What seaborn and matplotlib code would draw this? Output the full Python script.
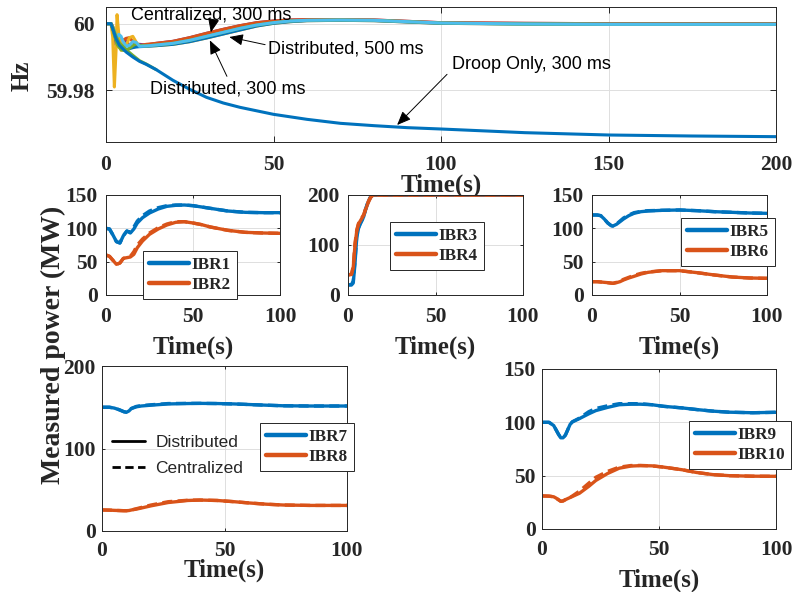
import matplotlib
matplotlib.use("Agg")
import matplotlib.pyplot as plt
import seaborn as sns
from matplotlib.lines import Line2D

# ---------------------------------------------------------------- data
# System frequency (Hz): early transient per bus trace, then scenario tails
freq_t_early = [0, 1.5, 2.0, 2.5, 3.0, 3.3, 3.8, 4.5, 5.0, 6.0, 7.0, 8.0, 9.0, 10.0, 12.0]
freq_yellow_early = [60, 60, 59.996, 59.981, 59.992, 60.0027, 59.997, 59.992, 59.9945,
                     59.9935, 59.9958, 59.9962, 59.9945, 59.9932, 59.9933]
freq_purple_early = [60, 60, 59.999, 59.9965, 59.9935, 59.9945, 59.996, 59.9945, 59.9935,
                     59.9948, 59.9935, 59.993, 59.9937, 59.9938, 59.9936]
freq_orange_early = [60, 60, 59.9992, 59.9975, 59.9955, 59.9948, 59.9943, 59.9946, 59.995,
                     59.9956, 59.9958, 59.9946, 59.9936, 59.9934, 59.9938]
freq_green_early = [60, 60, 59.9985, 59.9965, 59.995, 59.9938, 59.993, 59.9922, 59.992,
                    59.992, 59.9926, 59.9934, 59.994, 59.9935, 59.9933]
freq_lightblue_early = [60, 60, 59.999, 59.9978, 59.996, 59.9958, 59.9968, 59.9962, 59.9948,
                        59.9932, 59.9935, 59.9946, 59.9944, 59.9932, 59.9933]
freq_blue_early = [60, 60, 59.9985, 59.997, 59.995, 59.9942, 59.9936, 59.9932, 59.993,
                   59.9922, 59.9925, 59.9928, 59.993, 59.9931, 59.9932]

freq_t_tail = [15, 20, 25, 30, 35, 40, 45, 50, 55, 60, 70, 80, 90, 100, 125, 150, 175, 200]
freq_central_300 = [59.9941, 59.9947, 59.9958, 59.9971, 59.9983, 59.9994, 60.0003, 60.0008, 60.0011,
                    60.0012, 60.0012, 60.0011, 60.0007, 60.0003, 60.0001, 60.0, 60.0, 60.0]
freq_dist_500 = [59.9936, 59.9941, 59.9950, 59.9962, 59.9974, 59.9986, 59.9996, 60.0003, 60.0008,
                 60.0010, 60.0011, 60.0010, 60.0006, 60.0002, 59.9999, 59.9998, 59.9998, 59.9998]
freq_dist_300 = [59.9934, 59.9938, 59.9946, 59.9957, 59.9969, 59.9981, 59.9993, 60.0001, 60.0006,
                 60.0009, 60.0010, 60.0009, 60.0005, 60.0001, 59.9999, 59.9998, 59.9998, 59.9998]

droop_t = [0, 1.5, 2, 3, 4, 5, 6, 8, 10, 12, 15, 20, 25, 30, 35, 40, 50, 60, 70, 80, 90,
           100, 125, 150, 175, 200]
droop_blue = [60, 60, 59.9985, 59.9955, 59.9935, 59.9925, 59.9915, 59.9900, 59.9887, 59.9878,
              59.9862, 59.9830, 59.9803, 59.9779, 59.9762, 59.9749, 59.9728, 59.9713, 59.9701,
              59.9694, 59.9688, 59.9684, 59.9673, 59.9666, 59.9663, 59.9661]
droop_green_t = [0, 1.5, 2, 3, 4, 5, 6, 8, 10, 12, 15]
droop_green = [60, 60, 59.9990, 59.9962, 59.9942, 59.9932, 59.9922, 59.9905, 59.9889, 59.9879, 59.9862]

# Measured power (MW), distributed (solid) and centralized (dashed)
t12 = [0, 2, 4, 6, 8, 10, 12, 14, 16, 18, 21, 25, 30, 35, 40, 45, 50, 55, 60, 70, 80, 90, 100]
ibr1_dist = [100, 99, 90, 80, 78, 89, 96, 93, 99, 108, 116, 123, 129, 133, 134.5, 135, 134, 132,
             130, 126, 124, 123.5, 123.5]
ibr1_cent = [100, 99, 90, 80, 78, 89, 96, 94, 102, 111, 119, 126, 131, 134, 135, 135, 134, 132,
             130, 126, 124, 123.5, 123.5]
ibr2_dist = [60, 58, 52, 46, 48, 55, 56, 57, 61, 71, 81, 91, 99, 105, 109, 110, 108, 105.5,
             102, 97, 94, 93, 92.5]
ibr2_cent = [60, 58, 52, 46, 48, 55, 56, 58, 65, 75, 84, 93, 101, 106.5, 110, 110, 108, 105.5,
             102, 97, 94, 93, 92.5]

t34 = [0, 2, 3, 4, 5, 6, 7, 8, 9, 10, 11, 12, 13, 14, 15, 20, 40, 60, 80, 100]
ibr3_dist = [20, 20, 24, 63, 115, 133, 142, 149, 157, 170, 181, 190, 196, 199, 200, 200, 200, 200, 200, 200]
ibr3_cent = [20, 21, 28, 70, 118, 135, 143, 150, 158, 171, 182, 191, 197, 200, 200, 200, 200, 200, 200, 200]
ibr4_dist = [40, 41, 55, 100, 128, 142, 148, 154, 160, 170, 180, 188, 195, 199, 200, 200, 200, 200, 200, 200]
ibr4_cent = [40, 42, 58, 103, 130, 143, 149, 155, 161, 172, 182, 190, 196, 200, 200, 200, 200, 200, 200, 200]

t56 = [0, 3, 5, 7, 9, 11, 12, 14, 16, 18, 21, 24, 28, 32, 40, 50, 60, 70, 80, 90, 100]
ibr5_dist = [120, 120, 119, 114, 108, 104, 103.5, 106, 110, 114, 119, 122.5, 125, 126, 127, 127.5,
             126.5, 125, 124, 123, 122.5]
ibr5_cent = [120, 120, 119, 114, 108, 104, 103.5, 106.5, 111, 115.5, 120, 123.5, 125.5, 126.5, 127,
             127.5, 126.5, 125, 124, 123, 122.5]
ibr6_dist = [20, 20, 19.5, 19, 18.5, 17.8, 17.5, 18.5, 20, 22.5, 25.5, 28, 31.5, 34, 36.5, 36.5,
             33.5, 30, 27, 25.5, 25]
ibr6_cent = [20, 20, 19.5, 19, 18.5, 17.8, 17.5, 19, 21, 23.5, 26.5, 29.5, 32.5, 34.5, 36.5, 36.5,
             33.5, 30, 27, 25.5, 25]

t78 = [0, 3, 5, 7, 9, 10, 11, 12, 14, 16, 20, 27, 35, 40, 47, 54, 60, 67, 74, 85, 100]
ibr7_dist = [150, 150, 149, 147, 144.5, 144, 145.5, 148.5, 150.5, 151.5, 152.5, 154, 154.5, 154.7,
             154.5, 154, 153.3, 152.5, 151.8, 151.5, 151.5]
ibr7_cent = [150, 150, 149, 147, 144.5, 144, 145.5, 148.5, 151, 152, 153, 154.5, 154.7, 154.7,
             154.5, 154, 153.3, 152.5, 151.8, 151.5, 151.5]
ibr8_dist = [25.5, 25.3, 25, 24.8, 24.6, 24.6, 24.8, 25.5, 26.5, 27.8, 30.5, 34.5, 37, 37.5, 37,
             35.5, 34, 32.5, 31.5, 31, 31]
ibr8_cent = [25.5, 25.3, 25, 24.8, 24.6, 24.6, 24.8, 25.5, 27, 28.5, 31.5, 35.5, 37.3, 37.5, 37,
             35.5, 34, 32.5, 31.5, 31, 31]

t910 = [0, 3, 5, 6, 7, 8, 9, 10, 11, 12, 13, 16, 20, 23, 28, 33, 38, 42, 47, 52, 60, 66, 73, 80, 90, 100]
ibr9_dist = [100, 100, 97, 93, 89, 85.5, 85.5, 88, 93, 98, 100.5, 103.5, 108, 111, 114, 116.5, 117,
             117, 116.5, 115, 113.5, 112, 110.5, 109.5, 109, 109.4]
ibr9_cent = [100, 100, 97, 93, 89, 85.5, 85.5, 88, 93, 98, 100.5, 104, 110, 113, 115.5, 117.5, 117.5,
             117.5, 116.5, 115, 113.5, 112, 110.5, 109.5, 109, 109.4]
ibr10_dist = [31, 30.8, 30.2, 29, 27.5, 26, 26.3, 27.5, 28.5, 29.5, 30.5, 33.5, 40, 45.5, 52, 57, 59,
              59.4, 59.2, 58, 55.5, 53, 51, 50, 49.5, 49.4]
ibr10_cent = [31, 30.8, 30.2, 29, 27.5, 26, 26.3, 27.5, 28.5, 29.5, 31, 35.5, 43, 48.5, 54, 58, 59.5,
              59.6, 59.2, 58, 55.5, 53, 51, 50, 49.5, 49.4]

# ---------------------------------------------------------------- style
BLUE, ORANGE, YELLOW = "#0072BD", "#D95319", "#EDB120"
PURPLE, GREEN, LIGHTBLUE = "#7E2F8E", "#77AC30", "#4DBEEE"
AXC = "#262626"

sns.set_theme(style="white")
plt.rcParams["font.family"] = ["Liberation Serif", "DejaVu Serif"]
plt.rcParams["font.weight"] = "bold"
plt.rcParams["axes.labelweight"] = "bold"

W, H = 798, 592
fig = plt.figure(figsize=(W / 100, H / 100), dpi=100)
fig.patch.set_facecolor("white")


def px_axes(l, t, r, b):
    return fig.add_axes([l / W, 1 - b / H, (r - l) / W, (b - t) / H])


def style(ax, xlim, ylim, xticks, yticks, ticklen, xpad, ypad, ylabels=None):
    ax.set_xlim(*xlim)
    ax.set_ylim(*ylim)
    ax.set_xticks(xticks)
    ax.set_xticklabels([str(v) for v in xticks])
    ax.set_yticks(yticks)
    ax.set_yticklabels(ylabels if ylabels else [str(v) for v in yticks])
    for s in ax.spines.values():
        s.set_visible(True)
        s.set_color(AXC)
        s.set_linewidth(0.7)
    ax.grid(True, color="#dedede", linewidth=0.7)
    ax.set_axisbelow(True)
    ax.tick_params(direction="in", length=ticklen, width=0.7, color=AXC,
                   bottom=True, left=True, top=True, right=True,
                   labelsize=15.5, labelcolor=AXC)
    ax.tick_params(axis="x", pad=xpad)
    ax.tick_params(axis="y", pad=ypad)


def line(ax, x, y, color, lw, dashed=False):
    sns.lineplot(x=x, y=y, ax=ax, color=color, linewidth=lw, legend=False,
                 estimator=None, sort=False)
    ln = ax.lines[-1]
    if dashed:
        ln.set_dashes([3.0, 1.6])
    return ln


def time_label(ax, ypos):
    ax.set_xlabel("Time(s)", fontsize=18, color=AXC, fontweight="bold")
    ax.xaxis.set_label_coords(0.5, ypos)


def ibr_legend(ax, labels, left, top):
    handles = [Line2D([], [], color=BLUE, lw=3.2), Line2D([], [], color=ORANGE, lw=3.2)]
    leg = ax.legend(handles, labels, loc="upper left",
                    bbox_to_anchor=(left / W, 1 - top / H), bbox_transform=fig.transFigure,
                    frameon=True, fancybox=False, framealpha=1,
                    edgecolor=AXC, facecolor="white", borderpad=0.35, borderaxespad=0,
                    handlelength=2.35, handletextpad=0.15, labelspacing=0.22,
                    prop={"family": "Liberation Serif", "weight": "bold", "size": 12.3})
    leg.get_frame().set_linewidth(0.7)
    return leg


# ---------------------------------------------------------------- frequency panel
axf = px_axes(106, 7, 776, 142)
style(axf, (0, 200), (59.9645, 60.005), [0, 50, 100, 150, 200], [59.98, 60.0], 4.5, 9, 8,
      ylabels=["59.98", "60"])

freq_lw = 2.2
for col, early in [(PURPLE, freq_purple_early), (ORANGE, freq_orange_early)]:
    line(axf, freq_t_early + freq_t_tail, early + freq_central_300, col, freq_lw)
for col, early in [(YELLOW, freq_yellow_early), (BLUE, freq_blue_early)]:
    line(axf, freq_t_early + freq_t_tail, early + freq_dist_300, col, freq_lw)
for col, early in [(GREEN, freq_green_early), (LIGHTBLUE, freq_lightblue_early)]:
    line(axf, freq_t_early + freq_t_tail, early + freq_dist_500, col, freq_lw)
line(axf, droop_green_t, droop_green, GREEN, freq_lw)
line(axf, droop_t, droop_blue, BLUE, freq_lw)

note_kw = dict(fontsize=13, fontfamily="Liberation Sans", fontweight="normal", color="black",
               va="center", ha="left")
arrow_kw = dict(arrowstyle="-|>,head_length=0.6,head_width=0.25", color="black", lw=0.7,
                shrinkA=0, shrinkB=0, mutation_scale=14)

axf.text(7.4, 60.0027, "Centralized, 300 ms", **note_kw)
axf.annotate("", xy=(31.3, 59.9974), xytext=(32.0, 60.0007), arrowprops=arrow_kw)
axf.text(48.3, 59.99255, "Distributed, 500 ms", **note_kw)
axf.annotate("", xy=(36.8, 59.9960), xytext=(47.5, 59.9937), arrowprops=arrow_kw)
axf.text(13.0, 59.9803, "Distributed, 300 ms", **note_kw)
axf.annotate("", xy=(31.0, 59.9950), xytext=(36.1, 59.9842), arrowprops=arrow_kw)
axf.text(103.3, 59.98776, "Droop Only, 300 ms", **note_kw)
axf.annotate("", xy=(86.9, 59.9696), xytext=(101.8, 59.9848), arrowprops=arrow_kw)

axf.set_ylabel("")
fig.text(22 / W, 1 - 76 / H, "Hz", rotation=90, ha="center", va="center",
         fontsize=18, fontweight="bold", color=AXC)
time_label(axf, -0.235)

# ---------------------------------------------------------------- power panels
pw_lw = 2.4
panels = [
    # (l, t, r, b), time, series, ylim, yticks, legend labels, legend pos, ticklen, pads, xlabel y
    ((106, 195, 280, 295), t12, (ibr1_dist, ibr1_cent, ibr2_dist, ibr2_cent), (0, 150),
     [0, 50, 100, 150], ["IBR1", "IBR2"], (143, 251), 2.0, (9, 6), -0.41),
    ((348, 195, 523, 295), t34, (ibr3_dist, ibr3_cent, ibr4_dist, ibr4_cent), (0, 200),
     [0, 100, 200], ["IBR3", "IBR4"], (390, 222), 2.0, (9, 6), -0.41),
    ((592, 195, 767, 295), t56, (ibr5_dist, ibr5_cent, ibr6_dist, ibr6_cent), (0, 150),
     [0, 50, 100, 150], ["IBR5", "IBR6"], (681, 218), 2.0, (9, 6), -0.41),
    ((102, 366, 347, 531), t78, (ibr7_dist, ibr7_cent, ibr8_dist, ibr8_cent), (0, 200),
     [0, 100, 200], ["IBR7", "IBR8"], (260, 423), 2.5, (7, 4.5), -0.168),
    ((542, 369, 776, 529), t910, (ibr9_dist, ibr9_cent, ibr10_dist, ibr10_cent), (0, 150),
     [0, 50, 100, 150], ["IBR9", "IBR10"], (689, 421), 2.5, (8, 4.5), -0.245),
]

power_axes = []
for rect, tt, (a_d, a_c, b_d, b_c), ylim, yt, labels, lpos, tl, (xp, yp), xly in panels:
    ax = px_axes(*rect)
    style(ax, (0, 100), ylim, [0, 50, 100], yt, tl, xp, yp)
    line(ax, tt, a_d, BLUE, pw_lw)
    line(ax, tt, a_c, BLUE, pw_lw, dashed=True)
    line(ax, tt, b_d, ORANGE, pw_lw)
    line(ax, tt, b_c, ORANGE, pw_lw, dashed=True)
    ax.set_ylabel("")
    time_label(ax, xly)
    ibr_legend(ax, labels, *lpos)
    power_axes.append(ax)

# line-style key for the control schemes
ax_d = power_axes[3]
style_handles = [Line2D([], [], color="black", lw=2.0),
                 Line2D([], [], color="black", lw=2.0, dashes=[3.0, 1.6])]
key = ax_d.legend(style_handles, ["Distributed", "Centralized"], loc="upper left",
                  bbox_to_anchor=(112 / W, 1 - 435 / H), bbox_transform=fig.transFigure,
                  frameon=False, borderpad=0, borderaxespad=0, handlelength=1.9,
                  handletextpad=0.6, labelspacing=0.62,
                  prop={"family": "Liberation Sans", "weight": "normal", "size": 12.5})
ibr_legend(ax_d, ["IBR7", "IBR8"], 260, 423)
ax_d.add_artist(key)

fig.text(53 / W, 1 - 345 / H, "Measured power (MW)", rotation=90, ha="center", va="center",
         fontsize=20, fontweight="bold", color=AXC)

fig.savefig("out.png", dpi=100, facecolor="white")
